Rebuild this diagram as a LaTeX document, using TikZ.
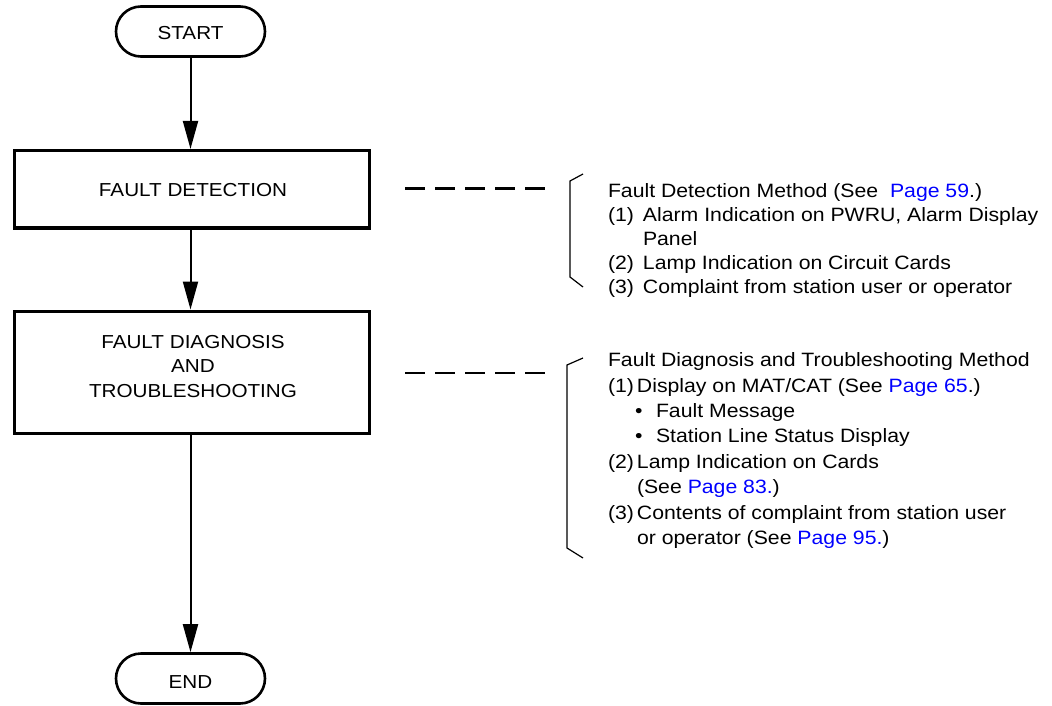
\documentclass[tikz,border=0pt]{standalone}
\usepackage{fontspec}
\setmainfont{Liberation Sans}[FakeStretch=1.1]
\usetikzlibrary{arrows.meta}
\definecolor{linkblue}{RGB}{0,0,255}
\newcommand{\pgref}[1]{\textcolor{linkblue}{#1}}
\begin{document}
\begin{tikzpicture}[x=1pt,y=-1pt,
  txt/.style={font=\fontsize{18.8}{24}\selectfont, inner sep=0pt, outer sep=0pt},
  notetxt/.style={font=\fontsize{19.3}{24}\selectfont, inner sep=0pt, outer sep=0pt},
  procbox/.style={draw, line width=3.3pt, minimum width=355pt, inner sep=0pt},
  term/.style={draw, line width=2.6pt, rounded corners=25pt, minimum width=149pt, minimum height=50pt, inner sep=0pt},
  arr/.style={line width=2pt, -{Triangle[length=28pt,width=15pt]}},
  dashline/.style={line width=2.8pt, dash pattern=on 20pt off 10pt},
  brk/.style={line width=1.2pt}]
\useasboundingbox (0,0) rectangle (1052,706);

% terminals and process boxes
\node[term] (start) at (190.5,31.5) {};
\node[txt, anchor=base] (starttxt) at (190.5,39.5) {START};
\node[procbox, minimum height=77.4pt] (detect) at (192.2,189.3) {};
\node[txt, anchor=base] (detecttxt) at (193,196.7) {FAULT DETECTION};
\node[procbox, minimum height=122pt] (diag) at (192.2,372.2) {};
\node[txt, anchor=base] (diagtxt) at (193,348) {\vtop{\baselineskip=24.5pt
  \halign{\hfil#\hfil\cr FAULT DIAGNOSIS\cr AND\cr TROUBLESHOOTING\cr}}};
\node[term] (end) at (190.5,678.5) {};
\node[txt, anchor=base] (endtxt) at (190.5,688) {END};

% flow arrows
\draw[arr] (start.south) -- (start.south |- detect.north);
\draw[arr] (start.south |- detect.south) -- (start.south |- diag.north);
\draw[arr] (start.south |- diag.south) -- (end.north);

% dashed leaders
\coordinate (d1a) at (405,188.5);
\coordinate (d1b) at (545,188.5);
\coordinate (d2a) at (405,373);
\coordinate (d2b) at (545,373);
\draw[dashline] (d1a) -- (d1b);
\draw[dashline] (d2a) -- (d2b);

% brackets
\draw[brk] (583,174) -- (570,181) -- (570,277) -- (583,287);
\draw[brk] (583,358) -- (567,365) -- (567,548) -- (583,558);

% notes
\node[notetxt, anchor=base west] (note1) at (608,197) {\vtop{\baselineskip=24pt
  \hbox{Fault Detection Method (See\ \ \pgref{Page 59}.)}
  \hbox{\makebox[35pt][l]{(1)}Alarm Indication on PWRU, Alarm Display}
  \hbox{\hspace*{35pt}Panel}
  \hbox{\makebox[35pt][l]{(2)}Lamp Indication on Circuit Cards}
  \hbox{\makebox[35pt][l]{(3)}Complaint from station user or operator}}};
\node[notetxt, anchor=base west] (note2) at (608,366.7) {\vtop{\baselineskip=25.4pt
  \hbox{Fault Diagnosis and Troubleshooting Method}
  \hbox{\makebox[29pt][l]{(1)}Display on MAT/CAT (See \pgref{Page 65}.)}
  \hbox{\hspace*{27pt}\makebox[21pt][l]{\textbullet}Fault Message}
  \hbox{\hspace*{27pt}\makebox[21pt][l]{\textbullet}Station Line Status Display}
  \hbox{\makebox[29pt][l]{(2)}Lamp Indication on Cards}
  \hbox{\hspace*{29pt}(See \pgref{Page 83.})}
  \hbox{\makebox[29pt][l]{(3)}Contents of complaint from station user}
  \hbox{\hspace*{29pt}or operator (See \pgref{Page 95.})}}};
\end{tikzpicture}
\end{document}
